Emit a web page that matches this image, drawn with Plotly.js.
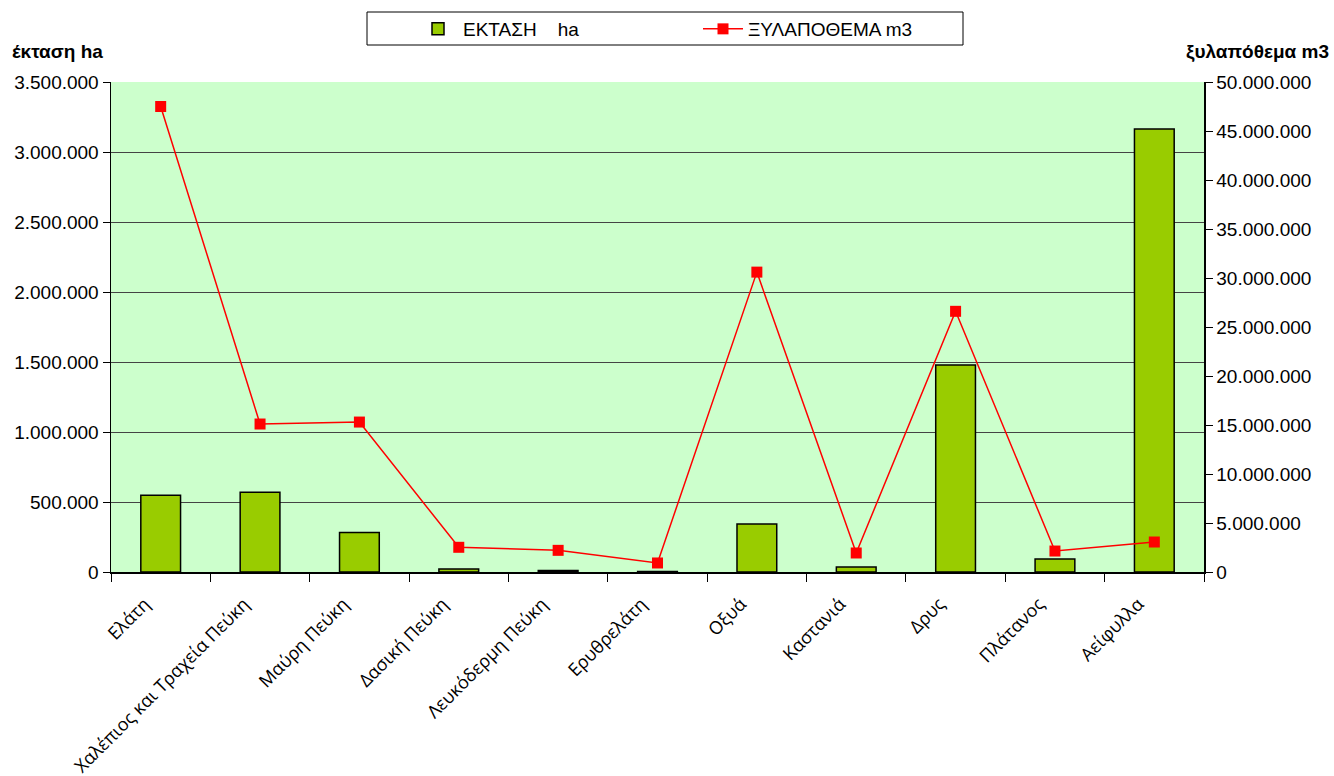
<!DOCTYPE html>
<html><head><meta charset="utf-8">
<script src="https://cdn.plot.ly/plotly-3.0.1.min.js"></script>
<style>body{margin:0;background:#fff}#c{width:1334px;height:776px}</style>
</head><body><div id="c"></div>
<script>
const categories = ["Ελάτη","Χαλέπιος και Τραχεία Πεύκη","Μαύρη Πεύκη","Δασική Πεύκη","Λευκόδερμη Πεύκη","Ερυθρελάτη","Οξυά","Καστανιά","Δρυς","Πλάτανος","Αείφυλλα"];
const areaHa = [548000, 569000, 283000, 21000, 10000, 3000, 343000, 36000, 1479000, 93000, 3165000];
const volumeM3 = [47500000, 15100000, 15300000, 2520000, 2210000, 920000, 30600000, 1940000, 26600000, 2140000, 3060000];
const areaName = "ΕΚΤΑΣΗ    ha";
const volumeName = "ΞΥΛΑΠΟΘΕΜΑ m3";

const font = "Liberation Sans, Arial, sans-serif";
const traces = [
  {type:"bar", x:categories, y:areaHa, name:areaName, yaxis:"y",
   marker:{color:"#99CC00", line:{color:"#000", width:1.5}}, width:0.4},
  {type:"scatter", mode:"lines+markers", x:categories, y:volumeM3, name:volumeName, yaxis:"y2",
   line:{color:"#FF0000", width:1.5}, marker:{symbol:"square", size:11, color:"#FF0000"}}
];
const layout = {
  width:1334, height:776,
  margin:{l:111, r:130, t:82, b:204},
  paper_bgcolor:"#fff", plot_bgcolor:"#CCFFCC",
  separators:",.",
  font:{family:font, size:19, color:"#000"},
  showlegend:true,
  legend:{orientation:"h", x:(413-111)/1093, xanchor:"left", y:1-29/776, yanchor:"middle", yref:"container",
    borderwidth:0, bgcolor:"rgba(0,0,0,0)", font:{family:font, size:19},
    entrywidth:230, itemwidth:40},
  xaxis:{type:"category", range:[-0.5,10.5], showline:true, linecolor:"#000", linewidth:1.5,
    ticks:"outside", tickson:"boundaries", ticklen:8, tickcolor:"#000",
    tickangle:-45, ticklabelstandoff:13, ticklabelshift:-16,
    tickfont:{family:"Open Sans, sans-serif", size:18},
    showgrid:false, fixedrange:true},
  yaxis:{range:[0,3500000], dtick:500000, tickformat:",d", showline:true, linecolor:"#000", linewidth:1.5,
    ticks:"outside", ticklen:7, tickcolor:"#000", showgrid:true, gridcolor:"#444", gridwidth:1,
    zeroline:false, tickfont:{family:font, size:19}},
  yaxis2:{range:[0,50000000], dtick:5000000, tickformat:",d", overlaying:"y", side:"right",
    showline:true, linecolor:"#000", linewidth:1.5, ticks:"outside", ticklen:7, tickcolor:"#000",
    showgrid:false, zeroline:false, tickfont:{family:font, size:19}},
  shapes:[
    {type:"rect", xref:"paper", yref:"paper", x0:(367-111)/1093, x1:(963-111)/1093,
     y0:(572-45)/490, y1:(572-12)/490, line:{color:"#000", width:1}, fillcolor:"rgba(0,0,0,0)", layer:"above"}
  ],
  annotations:[
    {text:"<b>έκταση ha</b>", xref:"paper", yref:"paper", x:(10-111)/1093, y:(572-52)/490, xanchor:"left", yanchor:"middle", showarrow:false, font:{family:font, size:19}},
    {text:"<b>ξυλαπόθεμα m3</b>", xref:"paper", yref:"paper", x:(1331-111)/1093, y:(572-52)/490, xanchor:"right", yanchor:"middle", showarrow:false, font:{family:font, size:19}}
  ]
};
Plotly.newPlot("c", traces, layout, {displayModeBar:false, staticPlot:true});
</script></body></html>
